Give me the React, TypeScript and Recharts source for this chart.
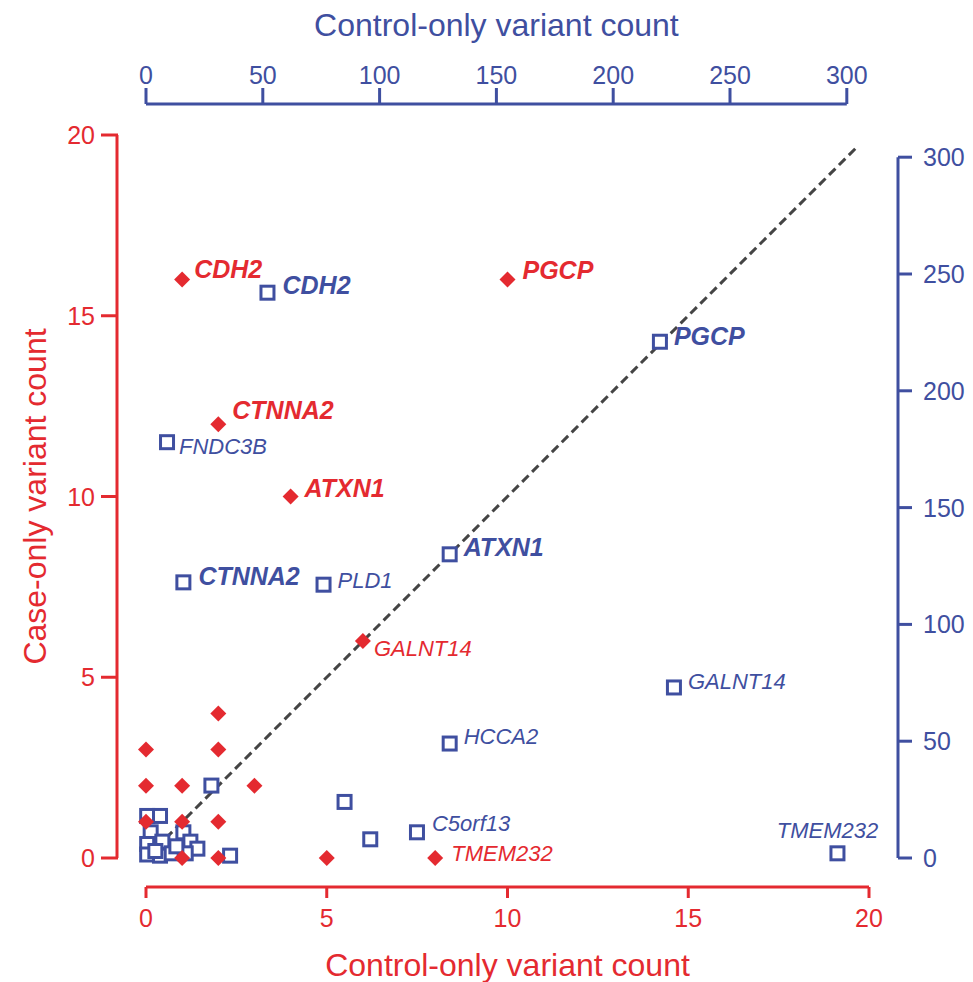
import { ScatterChart, Scatter, XAxis, YAxis, ReferenceLine, Label } from "recharts";

const RED = "#e42a30";
const BLUE = "#3f4fa0";
const FONT = "'Liberation Sans', Arial, Helvetica, sans-serif";

// case-only (y) vs control-only (x) counts, red = left/bottom axes
const caseGenes = [
  { gene: "CDH2", x: 1, y: 16 },
  { gene: "PGCP", x: 10, y: 16 },
  { gene: "CTNNA2", x: 2, y: 12 },
  { gene: "ATXN1", x: 4, y: 10 },
  { gene: "GALNT14", x: 6, y: 6 },
  { gene: "TMEM232", x: 8, y: 0 },
  { gene: "", x: 5, y: 0 },
  { gene: "", x: 2, y: 4 },
  { gene: "", x: 0, y: 3 },
  { gene: "", x: 2, y: 3 },
  { gene: "", x: 0, y: 2 },
  { gene: "", x: 1, y: 2 },
  { gene: "", x: 3, y: 2 },
  { gene: "", x: 0, y: 1 },
  { gene: "", x: 1, y: 1 },
  { gene: "", x: 2, y: 1 },
  { gene: "", x: 1, y: 0 },
  { gene: "", x: 2, y: 0 },
];

// blue = top/right axes
const controlGenes = [
  { gene: "CDH2", x: 52, y: 242 },
  { gene: "PGCP", x: 220, y: 221 },
  { gene: "FNDC3B", x: 9, y: 178 },
  { gene: "ATXN1", x: 130, y: 130 },
  { gene: "CTNNA2", x: 16, y: 118 },
  { gene: "PLD1", x: 76, y: 117 },
  { gene: "GALNT14", x: 226, y: 73 },
  { gene: "HCCA2", x: 130, y: 49 },
  { gene: "", x: 85, y: 24 },
  { gene: "C5orf13", x: 116, y: 11 },
  { gene: "", x: 96, y: 8 },
  { gene: "TMEM232", x: 296, y: 2 },
  { gene: "", x: 28, y: 31 },
  { gene: "", x: 36, y: 1 },
  { gene: "", x: 0.5, y: 18 },
  { gene: "", x: 6, y: 18 },
  { gene: "", x: 2, y: 11 },
  { gene: "", x: 16, y: 11 },
  { gene: "", x: 0.5, y: 6 },
  { gene: "", x: 7, y: 7 },
  { gene: "", x: 19, y: 7 },
  { gene: "", x: 22, y: 4 },
  { gene: "", x: 0.5, y: 1.5 },
  { gene: "", x: 6, y: 1 },
  { gene: "", x: 11, y: 2 },
  { gene: "", x: 17, y: 2 },
  { gene: "", x: 4, y: 3 },
  { gene: "", x: 13, y: 5 },
];

const redTicks = [0, 5, 10, 15, 20];
const blueTicks = [0, 50, 100, 150, 200, 250, 300];
const boldGenes = ["CDH2", "PGCP", "CTNNA2", "ATXN1"];

// label placement relative to the marker, in px
const labelOffsets: Record<string, { dx: number; dy: number; anchor?: string }> = {
  "red:CDH2": { dx: 12, dy: -11 },
  "red:PGCP": { dx: 15, dy: -10 },
  "red:CTNNA2": { dx: 14, dy: -14 },
  "red:ATXN1": { dx: 14, dy: -9 },
  "red:GALNT14": { dx: 11, dy: 7 },
  "red:TMEM232": { dx: 16, dy: -5 },
  "blue:CDH2": { dx: 15, dy: -8 },
  "blue:PGCP": { dx: 14, dy: -6 },
  "blue:FNDC3B": { dx: 12, dy: 4 },
  "blue:ATXN1": { dx: 14, dy: -7 },
  "blue:CTNNA2": { dx: 15, dy: -6 },
  "blue:PLD1": { dx: 14, dy: -4 },
  "blue:GALNT14": { dx: 14, dy: -6 },
  "blue:HCCA2": { dx: 14, dy: -7 },
  "blue:C5orf13": { dx: 15, dy: -9 },
  "blue:TMEM232": { dx: -10, dy: -23, anchor: "middle" },
};

// plot box
const W = 973;
const H = 982;
const LEFT = 146;
const RIGHT = 104;
const TOP = 135;
const BOTTOM = 124;
const PLOT = W - LEFT - RIGHT; // 723
const RED_MAX = 20;
const BLUE_PX = 2.336; // px per blue unit
const BLUE_MAX = PLOT / BLUE_PX;
const RED_PX = PLOT / RED_MAX;
const GAP = 29; // axis line distance from plot box

function GeneLabel({ cx, cy, gene, series }: any) {
  if (!gene) return null;
  const off = labelOffsets[`${series}:${gene}`] || { dx: 14, dy: -6 };
  const bold = boldGenes.includes(gene);
  return (
    <text
      x={cx + off.dx}
      y={cy + off.dy}
      textAnchor={off.anchor || "start"}
      dominantBaseline="central"
      fontFamily={FONT}
      fontStyle="italic"
      fontWeight={bold ? 700 : 400}
      fontSize={bold ? 25 : 22}
      fill={series === "red" ? RED : BLUE}
    >
      {gene}
    </text>
  );
}

function Diamond(props: any) {
  const { cx, cy, payload } = props;
  const r = 8;
  return (
    <g>
      <polygon points={`${cx},${cy - r} ${cx + r},${cy} ${cx},${cy + r} ${cx - r},${cy}`} fill={RED} />
      <GeneLabel cx={cx} cy={cy} gene={payload.gene} series="red" />
    </g>
  );
}

function Square(props: any) {
  const { cx, cy, payload } = props;
  const s = 13;
  return (
    <g>
      <rect x={cx - s / 2} y={cy - s / 2} width={s} height={s} fill="#fff" stroke={BLUE} strokeWidth={3} />
      <GeneLabel cx={cx} cy={cy} gene={payload.gene} series="blue" />
    </g>
  );
}

function BottomTick({ x, y, payload }: any) {
  return (
    <g>
      <line x1={x} x2={x} y1={y + GAP} y2={y + GAP + 11} stroke={RED} strokeWidth={3} />
      <text x={x} y={y + 60} textAnchor="middle" dominantBaseline="central" fontFamily={FONT} fontSize={25} fill={RED}>
        {payload.value}
      </text>
    </g>
  );
}

function LeftTick({ x, y, payload }: any) {
  return (
    <g>
      <line x1={x - GAP + 1} x2={x - GAP - 16} y1={y} y2={y} stroke={RED} strokeWidth={3} />
      <text x={x - 51} y={y} textAnchor="end" dominantBaseline="central" fontFamily={FONT} fontSize={25} fill={RED}>
        {payload.value}
      </text>
    </g>
  );
}

function TopTick({ x, y, payload }: any) {
  return (
    <g>
      <line x1={x} x2={x} y1={y - GAP - 2} y2={y - GAP - 18} stroke={BLUE} strokeWidth={3} />
      <text x={x} y={y - 60} textAnchor="middle" dominantBaseline="central" fontFamily={FONT} fontSize={25} fill={BLUE}>
        {payload.value}
      </text>
    </g>
  );
}

function RightTick({ x, y, payload }: any) {
  return (
    <g>
      <line x1={x + GAP} x2={x + GAP + 14} y1={y} y2={y} stroke={BLUE} strokeWidth={3} />
      <text x={x + 54} y={y} textAnchor="start" dominantBaseline="central" fontFamily={FONT} fontSize={25} fill={BLUE}>
        {payload.value}
      </text>
    </g>
  );
}

const titleStyle = { fontFamily: FONT, fontSize: 32 };

export default function App() {
  const redGap = GAP / RED_PX;
  const blueGapTop = (GAP + 2) / BLUE_PX;
  const blueGap = GAP / BLUE_PX;
  return (
    <div style={{ position: "absolute", left: 0, top: 0, width: W, height: H, background: "#fff" }}>
      <ScatterChart width={W} height={H} margin={{ top: 0, right: 0, bottom: 0, left: 0 }}>
        <XAxis
          xAxisId="red"
          type="number"
          dataKey="x"
          orientation="bottom"
          domain={[0, RED_MAX]}
          ticks={redTicks}
          interval={0}
          height={BOTTOM}
          axisLine={false}
          tickLine={false}
          tickSize={0}
          tickMargin={0}
          tick={<BottomTick />}
        >
          <Label
            content={({ viewBox }: any) => (
              <text x={viewBox.x + viewBox.width / 2} y={viewBox.y + 107} textAnchor="middle" dominantBaseline="central" fill={RED} style={titleStyle}>
                Control-only variant count
              </text>
            )}
          />
        </XAxis>
        <XAxis
          xAxisId="blue"
          type="number"
          dataKey="x"
          orientation="top"
          domain={[0, BLUE_MAX]}
          ticks={blueTicks}
          interval={0}
          height={TOP}
          axisLine={false}
          tickLine={false}
          tickSize={0}
          tickMargin={0}
          tick={<TopTick />}
        >
          <Label
            content={({ viewBox }: any) => (
              <text x={viewBox.x + 150 * BLUE_PX} y={viewBox.y + 25} textAnchor="middle" dominantBaseline="central" fill={BLUE} style={titleStyle}>
                Control-only variant count
              </text>
            )}
          />
        </XAxis>
        <YAxis
          yAxisId="red"
          type="number"
          dataKey="y"
          orientation="left"
          domain={[0, RED_MAX]}
          ticks={redTicks}
          interval={0}
          width={LEFT}
          axisLine={false}
          tickLine={false}
          tickSize={0}
          tickMargin={0}
          tick={<LeftTick />}
        >
          <Label
            content={({ viewBox }: any) => {
              const cy = viewBox.y + viewBox.height / 2;
              return (
                <text x={35} y={cy} transform={`rotate(-90 35 ${cy})`} textAnchor="middle" dominantBaseline="central" fill={RED} style={titleStyle}>
                  Case-only variant count
                </text>
              );
            }}
          />
        </YAxis>
        <YAxis
          yAxisId="blue"
          type="number"
          dataKey="y"
          orientation="right"
          domain={[0, BLUE_MAX]}
          ticks={blueTicks}
          interval={0}
          width={RIGHT}
          axisLine={false}
          tickLine={false}
          tickSize={0}
          tickMargin={0}
          tick={<RightTick />}
        />

        {/* detached axis lines */}
        <ReferenceLine xAxisId="red" yAxisId="red" ifOverflow="visible" stroke={RED} strokeWidth={3}
          segment={[{ x: 0, y: -redGap }, { x: RED_MAX, y: -redGap }]} />
        <ReferenceLine xAxisId="red" yAxisId="red" ifOverflow="visible" stroke={RED} strokeWidth={3}
          segment={[{ x: -redGap, y: 0 }, { x: -redGap, y: RED_MAX }]} />
        <ReferenceLine xAxisId="blue" yAxisId="blue" ifOverflow="visible" stroke={BLUE} strokeWidth={3}
          segment={[{ x: 0, y: BLUE_MAX + blueGapTop }, { x: 300, y: BLUE_MAX + blueGapTop }]} />
        <ReferenceLine xAxisId="blue" yAxisId="blue" ifOverflow="visible" stroke={BLUE} strokeWidth={3}
          segment={[{ x: BLUE_MAX + blueGap, y: 0 }, { x: BLUE_MAX + blueGap, y: 300 }]} />

        {/* y = x */}
        <ReferenceLine xAxisId="red" yAxisId="red" ifOverflow="visible" stroke="#444" strokeWidth={3} strokeDasharray="9 5"
          segment={[{ x: 0, y: 0 }, { x: 19.7, y: 19.7 }]} />

        <Scatter xAxisId="blue" yAxisId="blue" data={controlGenes} shape={<Square />} isAnimationActive={false} />
        <Scatter xAxisId="red" yAxisId="red" data={caseGenes} shape={<Diamond />} isAnimationActive={false} />
      </ScatterChart>
    </div>
  );
}
